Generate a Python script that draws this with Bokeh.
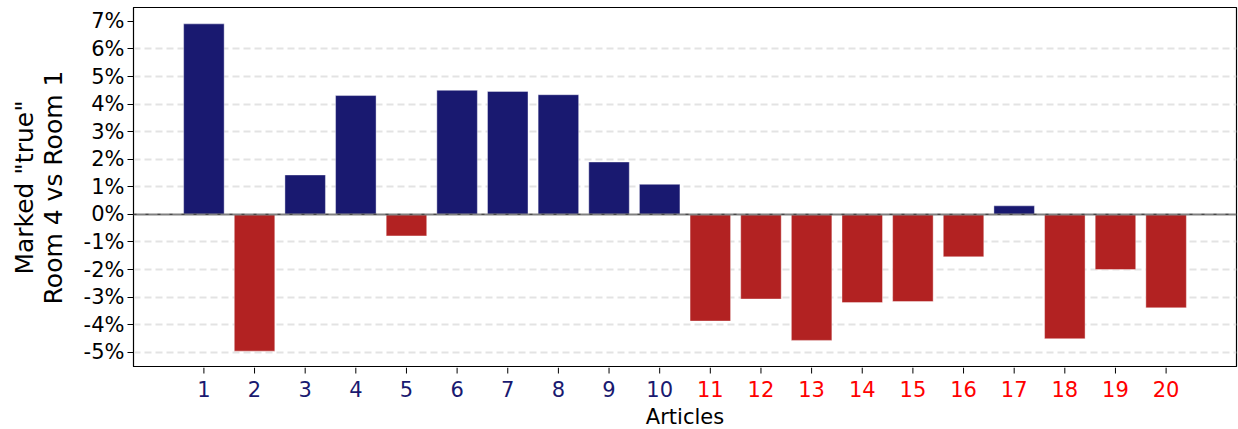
from bokeh.plotting import figure
from bokeh.layouts import column
from bokeh.models import (ColumnDataSource, FixedTicker, PrintfTickFormatter, Span, Range1d)
from bokeh.core.properties import value
from bokeh.embed import file_html
from bokeh.resources import INLINE

# ---- data ----
articles = list(range(1, 21))
values = [6.91, -4.96, 1.43, 4.31, -0.78, 4.50, 4.46, 4.34, 1.90, 1.09,
          -3.87, -3.07, -4.57, -3.20, -3.16, -1.54, 0.31, -4.51, -2.00, -3.39]
tick_labels = [str(a) for a in articles]
y_ticks = [-5, -4, -3, -2, -1, 0, 1, 2, 3, 4, 5, 6, 7]
x_title = "Articles"
y_title = 'Marked "true"\nRoom 4 vs Room 1'
group_split = 10  # articles 1-10 vs 11-20

NAVY = "#191970"
FIRE = "#B22222"
RED = "#FF0000"

bar_colors = [NAVY if v >= 0 else FIRE for v in values]
label_colors = [NAVY if a <= group_split else RED for a in articles]

ymin, ymax = min(values), max(values)
pad = (ymax - ymin) * 0.05
y0, y1 = ymin - pad, ymax + pad
xpad = ((articles[-1] + 0.4) - (articles[0] - 0.4)) * 0.05
x0, x1 = articles[0] - 0.4 - xpad, articles[-1] + 0.4 + xpad

W = 1238
LB, RB = 133, 2
H1, H2 = 367, 62

src = ColumnDataSource(dict(x=articles, top=values, color=bar_colors))

p = figure(width=W, height=H1, x_range=Range1d(x0, x1), y_range=Range1d(y0, y1),
           output_backend="svg", toolbar_location=None, x_axis_location=None,
           min_border_left=LB, min_border_right=RB, min_border_top=7, min_border_bottom=0)
p.background_fill_color = "white"
p.border_fill_color = "white"
p.outline_line_color = "black"
p.outline_line_width = 1.2

p.vbar(x="x", top="top", bottom=0, width=0.8, fill_color="color", source=src,
       line_color="white", line_width=0.8, line_alpha=0.5)

# zero line
p.add_layout(Span(location=0, dimension="width", line_color="#808080", line_width=2))
p.add_layout(Span(location=0, dimension="width", line_color="#333333", line_width=1.2,
                  line_dash="3 9", line_alpha=0.7))

# grid
p.xgrid.visible = False
p.ygrid.ticker = FixedTicker(ticks=[t for t in y_ticks if t not in (0, 7)])
p.ygrid.grid_line_color = "#e3e3e3"
p.ygrid.grid_line_width = 2
p.ygrid.grid_line_dash = "7 4"

# y axis
ya = p.yaxis[0]
ya.ticker = FixedTicker(ticks=y_ticks)
ya.formatter = PrintfTickFormatter(format="%d%%")
ya.major_label_text_font = "DejaVu Sans"
ya.major_label_text_font_size = "21px"
ya.major_label_text_color = "black"
ya.major_tick_out = 6
ya.major_tick_in = 0
ya.minor_tick_line_color = None
ya.axis_line_color = "black"
ya.major_tick_line_color = "black"
ya.major_label_standoff = 3
ya.axis_label = y_title
ya.axis_label_text_font = "DejaVu Sans"
ya.axis_label_text_font_size = "25px"
ya.axis_label_text_font_style = "normal"
ya.axis_label_text_color = "black"
ya.axis_label_text_line_height = 1.0
ya.axis_label_standoff = 13

# strip below the frame: x ticks, coloured tick labels and the x title
q = figure(width=W, height=H2, x_range=p.x_range, y_range=Range1d(H2, 0),
           output_backend="svg", toolbar_location=None,
           x_axis_location=None, y_axis_location=None,
           min_border_left=LB, min_border_right=RB, min_border_top=0, min_border_bottom=0)
q.outline_line_color = None
q.background_fill_color = "white"
q.border_fill_color = "white"
q.xgrid.visible = False
q.ygrid.visible = False

q.segment(x0=articles, x1=articles, y0=[0] * len(articles), y1=[6] * len(articles),
          line_color="black", line_width=1)

lab_src = ColumnDataSource(dict(x=articles, y=[21] * len(articles),
                                text=tick_labels, color=label_colors))
q.text(x="x", y="y", text="text", source=lab_src, text_color="color",
       text_font=value("DejaVu Sans"), text_font_size="21px",
       text_align="center", text_baseline="middle")
q.text(x=[(x0 + x1) / 2], y=[49], text=[x_title], text_color="black",
       text_font=value("DejaVu Sans"), text_font_size="21px",
       text_align="center", text_baseline="middle")

layout = column(p, q, spacing=0)
open("out.html", "w").write(file_html(layout, INLINE))
